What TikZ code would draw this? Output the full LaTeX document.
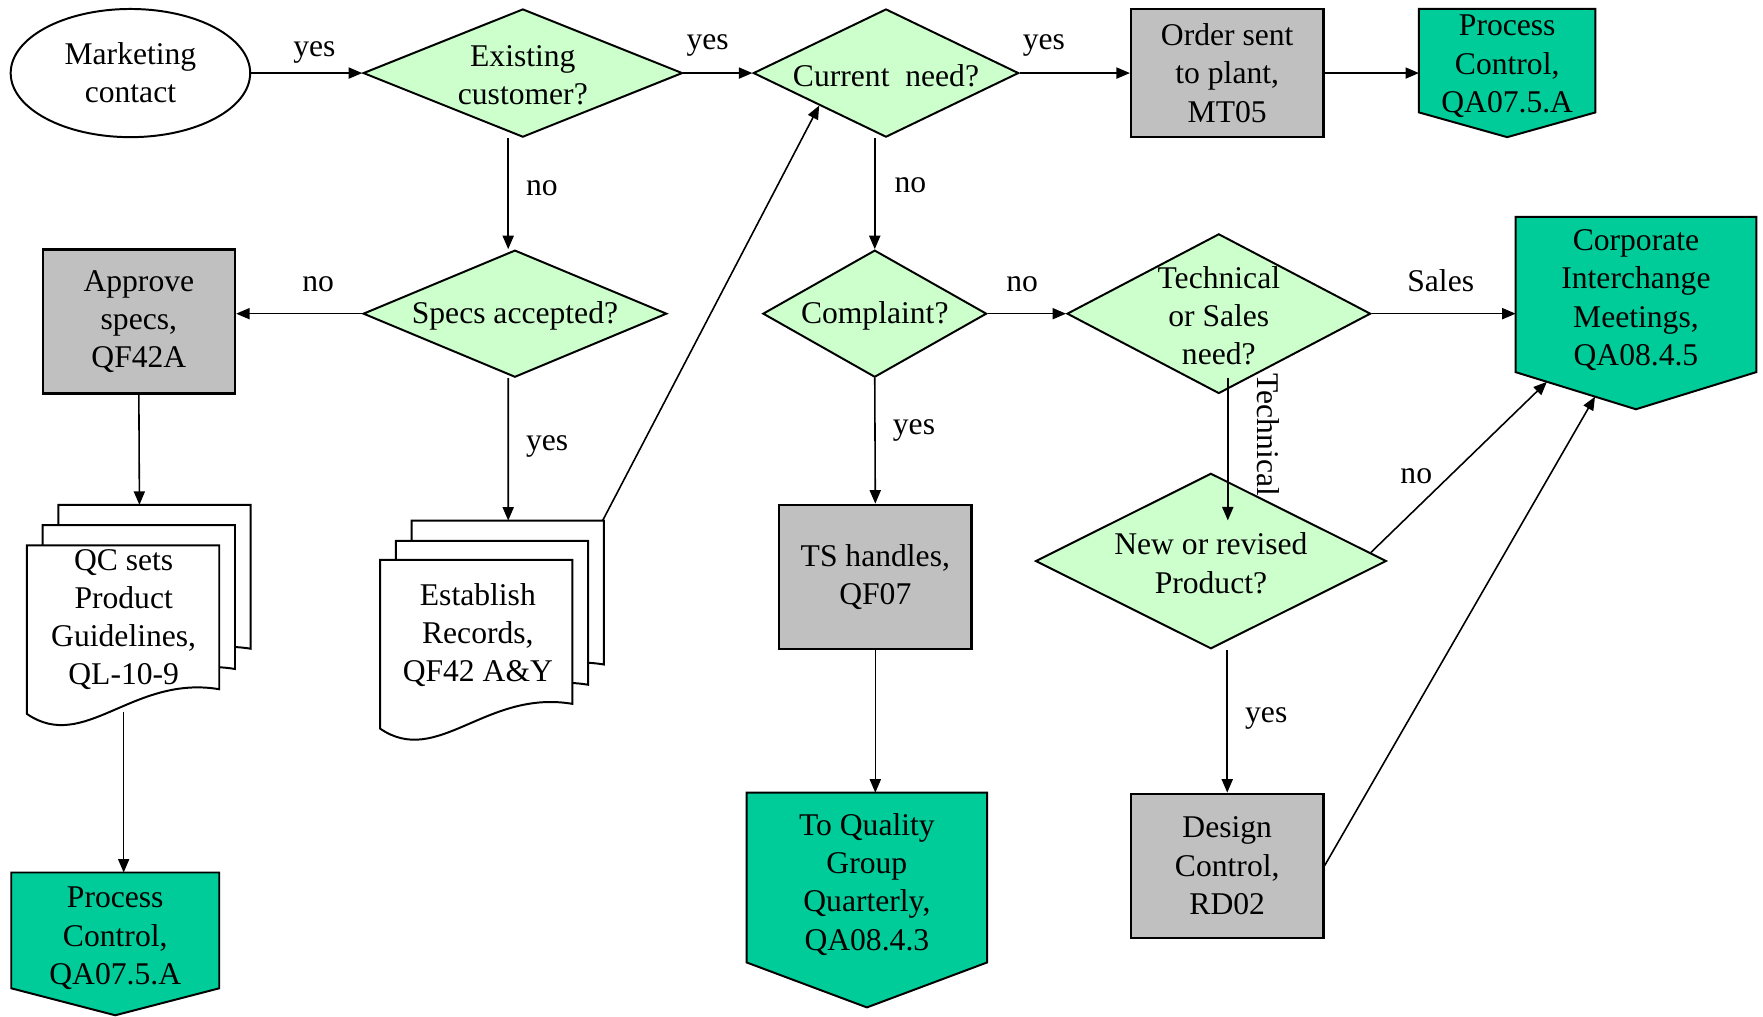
\documentclass[tikz,border=0pt]{standalone}
\usepackage{fontspec}
\setmainfont{Liberation Serif}
\usetikzlibrary{shapes.geometric,arrows.meta,calc,backgrounds}

\definecolor{decgreen}{HTML}{CCFFCC}
\definecolor{boxgray}{HTML}{C0C0C0}
\definecolor{pagegreen}{HTML}{00CC99}

\tikzset{
  decision/.style={diamond, draw, fill=decgreen, line width=0.5pt, inner sep=0pt},
  process/.style={rectangle, draw, fill=boxgray, line width=0.6pt, align=center, inner sep=0pt,
    minimum width=17.1mm, minimum height=12.8mm},
  offpage/.style={rectangle, inner sep=0pt, outer sep=0pt},
  flow/.style={-{Triangle[length=3.4pt,width=2.8pt]}, line width=0.4pt},
  docsheet/.pic={\draw[fill=white, line width=0.5pt] (0,0) -- (171,0) -- (171,128)
    .. controls (94,115) and (51,185) .. (0,150) -- cycle;},
  every label/.style={align=center, yshift=-0.2mm}
}

% off-page connector outline behind a node: name, depth of the point
\newcommand\pagetip[2]{%
  \draw[fill=pagegreen, line width=0.5pt] (#1.north west) -- (#1.north east) -- (#1.south east)
    -- ($(#1.south)+(0,#2)$) coordinate (#1tip) -- (#1.south west) -- cycle;}

\begin{document}
\begin{tikzpicture}[x=0.1mm, y=-0.1mm, font=\fontsize{8}{9.67}\selectfont]
\useasboundingbox (0,0) rectangle (1568,904);

% top row
\node[ellipse, draw, line width=0.5pt, inner sep=0pt, align=center,
  minimum width=21.3mm, minimum height=11.4mm] (mkt) at (116,65) {Marketing\\contact};
\node[decision, minimum width=28.4mm, minimum height=11.4mm,
  label=center:{Existing\\customer?}] (exist) at (465,65) {};
\node[decision, minimum width=23.6mm, minimum height=11.4mm,
  label=center:{Current\ \ need?}] (cur) at (788,65) {};
\node[process, minimum height=11.4mm] (order) at (1091.5,65) {Order sent\\to plant,\\MT05};
\node[offpage, minimum width=15.7mm, minimum height=9.2mm,
  label={[yshift=-0.3mm]center:Process\\Control,\\QA07.5.A}] (pc1) at (1340.5,54) {};

% second row
\node[process] (approve) at (123.5,286) {Approve\\specs,\\QF42A};
\node[decision, minimum width=27mm, minimum height=11.3mm,
  label=center:{Specs accepted?}] (specs) at (458,279) {};
\node[decision, minimum width=19.9mm, minimum height=11.3mm,
  label=center:{Complaint?}] (cmp) at (778,279) {};
\node[decision, minimum width=27mm, minimum height=14.2mm,
  label=center:{Technical\\or Sales\\need?}] (tech) at (1084,279) {};
\node[offpage, minimum width=21.4mm, minimum height=13.8mm,
  label={[yshift=-0.3mm]center:Corporate\\Interchange\\Meetings,\\QA08.4.5}] (corp) at (1455,262) {};

% lower part
\node[process] (ts) at (778.5,513) {TS handles,\\QF07};
\node[decision, minimum width=31.2mm, minimum height=15.6mm,
  label=center:{New or revised\\Product?}] (newp) at (1077,499) {};
\node[process] (design) at (1091.5,770) {Design\\Control,\\RD02};
\node[offpage, minimum width=21.4mm, minimum height=15.1mm,
  label={[yshift=-0.4mm]center:To Quality\\Group\\Quarterly,\\QA08.4.3}] (toq) at (771,780.5) {};
\node[offpage, minimum width=18.5mm, minimum height=10.3mm,
  label={[yshift=-0.5mm]center:Process\\Control,\\QA07.5.A}] (pc2) at (102.5,827.5) {};

% document stacks
\pic at (52,449) {docsheet};
\pic at (38,467) {docsheet};
\pic at (24,485) {docsheet};
\node[align=center] (qc) at (110,551) {QC sets\\Product\\Guidelines,\\QL-10-9};
\pic at (366,463) {docsheet};
\pic at (352,481) {docsheet};
\pic at (338,498) {docsheet};
\node[align=center] (rec) at (425,565) {Establish\\Records,\\QF42 A\&Y};
\coordinate (qctop) at (124,449);
\coordinate (qcout) at (110,633);
\coordinate (rectop) at (452,463);
\coordinate (reccorner) at (536,463);

\begin{scope}[on background layer]
  \pagetip{pc1}{22}
  \pagetip{corp}{33}
  \pagetip{toq}{40}
  \pagetip{pc2}{24}
\end{scope}

% connectors
\draw[flow] (mkt) -- (exist) node[pos=.57, above=-1pt] {yes};
\draw[flow] (exist) -- (cur) node[pos=.35, above=0.6pt] {yes};
\draw[flow] (cur) -- (order) node[pos=.22, above=0.6pt] {yes};
\draw[flow] (order.east) -- (order.east -| pc1.west);
\draw[flow] ([xshift=-1.3mm]exist.south) -- ([xshift=-1.3mm]exist.south |- specs.north)
  node[pos=.45, right=1pt] {no};
\draw[flow] (cmp.north |- cur.south) -- (cmp.north) node[pos=.42, right=1.5pt] {no};
\draw[flow] (specs.west) -- (specs.west -| approve.east) node[pos=.35, above=2pt] {no};
\draw[flow] ([xshift=-0.6mm]specs.south) -- (rectop) node[pos=.48, right=1pt] {yes};
\draw[flow] (reccorner) -- (cur.south west);
\draw[flow] (approve.south) -- (qctop);
\draw[flow] (qcout) -- (qcout |- pc2.north);
\draw[flow] (cmp) -- (tech) node[pos=.44, above=2pt] {no};
\draw[flow] (tech) -- (tech -| corp.west) node[pos=.48, above=2pt] {Sales};
\draw[flow] ($(tech.south)+(8,-15)$) -- ++(0,127)
  node[pos=.4, rotate=-90, anchor=south, outer sep=4pt] {Technical};
\draw[flow] (cmp.south) -- (ts.north) node[pos=.42, right=1pt] {yes};
\draw[flow] (ts.south) -- (ts.south |- toq.north);
\draw[flow] (newp.3) -- ($(corp.south west)!.26!(corptip)$) node[pos=.45, left=1pt] {no};
\draw[flow] (design.north |- newp.south) -- (design.north) node[pos=.48, right=1pt] {yes};
\draw[flow] (design.east) -- ($(corp.south west)!.66!(corptip)$);
\end{tikzpicture}
\end{document}
